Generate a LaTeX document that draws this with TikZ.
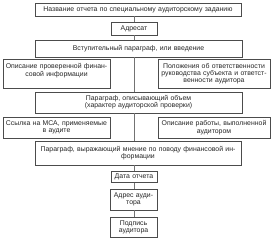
\documentclass[tikz,border=0pt]{standalone}
\usepackage{fontspec}
\setmainfont{Liberation Sans}
\begin{document}
\begin{tikzpicture}[x=1pt,y=-1pt,
  boxst/.style={draw=black!70, line width=0.6pt, inner sep=0pt, align=center,
    font=\fontsize{6.9}{7.3}\selectfont, text=black!85},
  conn/.style={draw=black!55, line width=0.5pt}]
\useasboundingbox (0,0) rectangle (275,244);
% boxes: center x, center y, width, height
\node[boxst, minimum width=206pt, minimum height=13pt, text width=204pt] (b1) at (138,9.5) {Название отчета по специальному аудиторскому заданию};
\node[boxst, minimum width=46pt, minimum height=13pt, text width=45pt] (b2) at (134,28.5) {Адресат};
\node[boxst, minimum width=207pt, minimum height=17pt, text width=205pt] (b3) at (138.5,48.5) {Вступительный параграф, или введение};
\node[boxst, minimum width=107pt, minimum height=29pt, text width=106pt] (b4l) at (56.5,73.5) {Описание проверенной финан-\\совой информации\\\mbox{}};
\node[boxst, minimum width=112pt, minimum height=29pt, text width=111pt] (b4r) at (214,73.5) {Положения об ответственности\\руководства субъекта и ответст-\\венности аудитора};
\node[boxst, minimum width=207pt, minimum height=21pt, text width=205pt] (b5) at (138.5,102.5) {Параграф, описывающий объем\\(характер аудиторской проверки)};
\node[boxst, minimum width=107pt, minimum height=21pt, text width=106pt] (b6l) at (56.5,127.5) {Ссылка на МСА, применяемые\\в аудите};
\node[boxst, minimum width=112pt, minimum height=21pt, text width=111pt] (b6r) at (214,127.5) {Описание работы, выполненной\\аудитором};
\node[boxst, minimum width=206pt, minimum height=24pt, text width=204pt] (b7) at (138,153) {Параграф, выражающий мнение по поводу финансовой ин-\\формации};
\node[boxst, minimum width=46pt, minimum height=11pt, text width=45pt] (b8) at (134,177) {Дата отчета};
\node[boxst, minimum width=47pt, minimum height=21pt, text width=46pt] (b9) at (133.5,199.5) {Адрес ауди-\\тора};
\node[boxst, minimum width=47pt, minimum height=20pt, text width=46pt] (b10) at (133.5,227) {Подпись\\аудитора};
% connectors
\coordinate (cx) at (134,0);
\draw[conn] (b1.south -| cx) -- (b2.north -| cx);
\draw[conn] (b2.south -| cx) -- (b3.north -| cx);
\draw[conn] (b3.south -| cx) -- (b5.north -| cx);
\draw[conn] (b5.south -| cx) -- (b7.north -| cx);
\draw[conn] (b7.south -| cx) -- (b8.north -| cx);
\draw[conn] (b8.south -| cx) -- (b9.north -| cx);
\draw[conn] (b9.south -| cx) -- (b10.north -| cx);
\end{tikzpicture}
\end{document}
